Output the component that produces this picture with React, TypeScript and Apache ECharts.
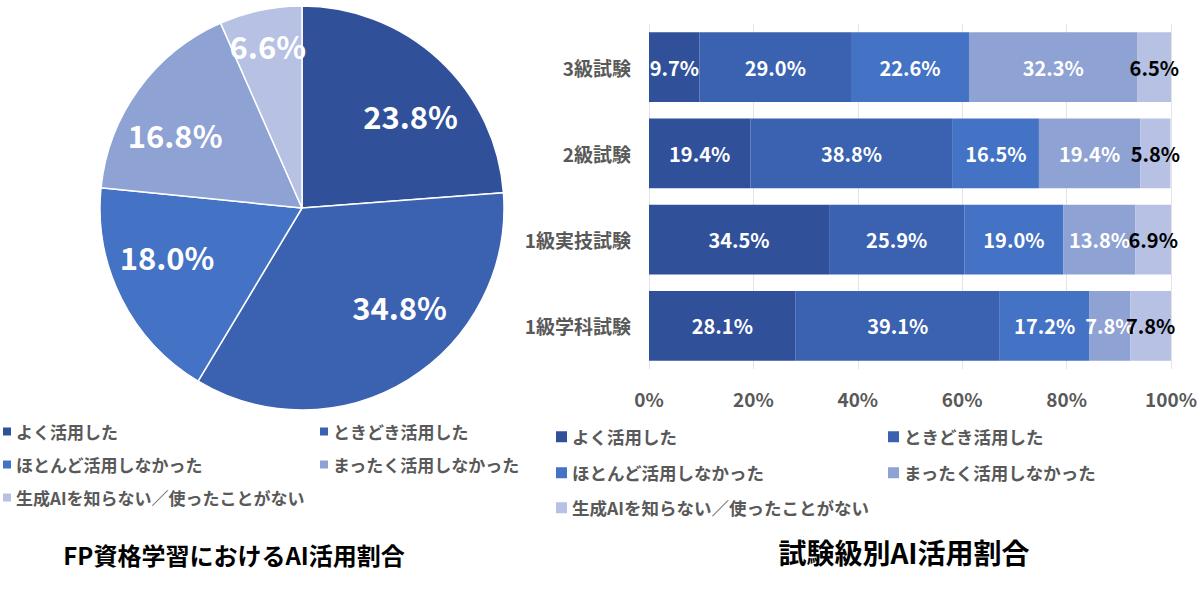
import React, { useEffect, useRef } from 'react';
import * as echarts from 'echarts';

// 回答カテゴリ（凡例・系列名）
const answerNames = [
  'よく活用した',
  'ときどき活用した',
  'ほとんど活用しなかった',
  'まったく活用しなかった',
  '生成AIを知らない／使ったことがない',
];

// 円グラフ: FP資格学習全体 (%)
const pieValues = [23.8, 34.8, 18.0, 16.8, 6.6];

// 帯グラフ: 試験級別 (%)
const examNames = ['3級試験', '2級試験', '1級実技試験', '1級学科試験'];
const oftenValues = [9.7, 19.4, 34.5, 28.1];
const sometimesValues = [29.0, 38.8, 25.9, 39.1];
const rarelyValues = [22.6, 16.5, 19.0, 17.2];
const neverValues = [32.3, 19.4, 13.8, 7.8];
const unknownValues = [6.5, 5.8, 6.9, 7.8];
const barValues = [oftenValues, sometimesValues, rarelyValues, neverValues, unknownValues];

const xTicks = [0, 20, 40, 60, 80, 100];

const colors = ['#30519A', '#3B62B0', '#4472C4', '#8FA2D4', '#B6C1E4'];
const JP = '"Noto Sans CJK JP", "Noto Sans", sans-serif';
const GRAY = '#595959';

// 凡例の配置（2列）
const pieLegendPos = [
  [3, 434], [320, 434], [3, 467], [320, 467], [3, 500],
];
const barLegendPos = [
  [556, 439], [888, 439], [556, 475], [888, 475], [556, 510],
];

// 円グラフのラベル微調整（Excel の自動配置に寄せる）
const pieLabelShift = [
  [12, 12], [23, -22], [-8, -15], [-12, 10], [-5, -24],
];

const App = () => {
  const chartRef = useRef<HTMLDivElement>(null);

  useEffect(() => {
    const chart = echarts.init(chartRef.current, null, { renderer: 'svg' });

    const makeLegend = (pos: number[][], size: number, fontSize: number) =>
      answerNames.map((name, i) => ({
        data: [name],
        left: pos[i][0],
        top: pos[i][1] - 11,
        padding: 0,
        icon: 'rect',
        itemWidth: size,
        itemHeight: size,
        selectedMode: false,
        textStyle: { color: GRAY, fontSize, fontWeight: 'bold', fontFamily: JP },
      }));

    const pieData = answerNames.map((name, i) => ({
      name,
      value: pieValues[i],
      itemStyle: { color: colors[i] },
    }));

    chart.setOption({
      animation: false,
      legend: [...makeLegend(pieLegendPos, 8, 17), ...makeLegend(barLegendPos, 11, 17.5)],
      grid: { left: 649, right: 29, top: 24, bottom: 221 },
      xAxis: {
        type: 'value',
        min: xTicks[0],
        max: xTicks[xTicks.length - 1],
        interval: 20,
        axisLine: { show: false },
        axisTick: { show: false },
        splitLine: { lineStyle: { color: '#e4e4e4' } },
        axisLabel: {
          formatter: '{value}%',
          color: GRAY,
          fontSize: 19,
          fontWeight: 'bold',
          fontFamily: JP,
          margin: 20,
        },
      },
      yAxis: {
        type: 'category',
        data: examNames,
        inverse: true,
        axisLine: { show: false },
        axisTick: { show: false },
        axisLabel: { color: GRAY, fontSize: 19, fontWeight: 'bold', fontFamily: JP, margin: 18 },
      },
      graphic: [
        {
          type: 'text',
          x: 234,
          y: 554,
          style: {
            text: 'FP資格学習におけるAI活用割合',
            fill: '#000',
            font: `bold 24px ${JP}`,
            textAlign: 'center',
            textVerticalAlign: 'middle',
          },
        },
        {
          type: 'text',
          x: 904,
          y: 552,
          style: {
            text: '試験級別AI活用割合',
            fill: '#000',
            font: `bold 28px ${JP}`,
            textAlign: 'center',
            textVerticalAlign: 'middle',
          },
        },
      ],
      series: [
        ...barValues.map((vals, i) => ({
          name: answerNames[i],
          type: 'bar',
          stack: 'total',
          barCategoryGap: '19%',
          data: vals,
          itemStyle: { color: colors[i] },
          label: {
            show: true,
            position: 'inside',
            formatter: (p: any) => `${Number(p.value).toFixed(1)}%`,
            color: i === 4 ? '#000' : '#fff',
            fontSize: 20,
            fontWeight: 'bold',
            fontFamily: JP,
          },
        })),
        {
          type: 'pie',
          center: [302, 208],
          radius: [0, 202],
          data: pieData,
          label: { show: false },
          labelLine: { show: false },
          itemStyle: { borderColor: '#fff', borderWidth: 1.5 },
          silent: true,
        },
        {
          // ラベル専用（半径の約7割に配置）
          type: 'pie',
          center: [302, 208],
          radius: [76, 202],
          data: pieData.map((d) => ({ name: d.name, value: d.value })),
          itemStyle: { color: 'transparent' },
          silent: true,
          label: {
            show: true,
            position: 'inside',
            formatter: (p: any) => `${Number(p.value).toFixed(1)}%`,
            color: '#fff',
            fontSize: 31,
            fontWeight: 'bold',
            fontFamily: JP,
          },
          labelLine: { show: false },
          labelLayout: (p: any) => {
            const s = pieLabelShift[p.dataIndex] || [0, 0];
            return { dx: s[0], dy: s[1] };
          },
        },
      ],
    });

    return () => {
      chart.dispose();
    };
  }, []);

  return (
    <div
      ref={chartRef}
      style={{ position: 'absolute', left: 0, top: 0, width: 1200, height: 590, background: '#fff' }}
    />
  );
};

export default App;
